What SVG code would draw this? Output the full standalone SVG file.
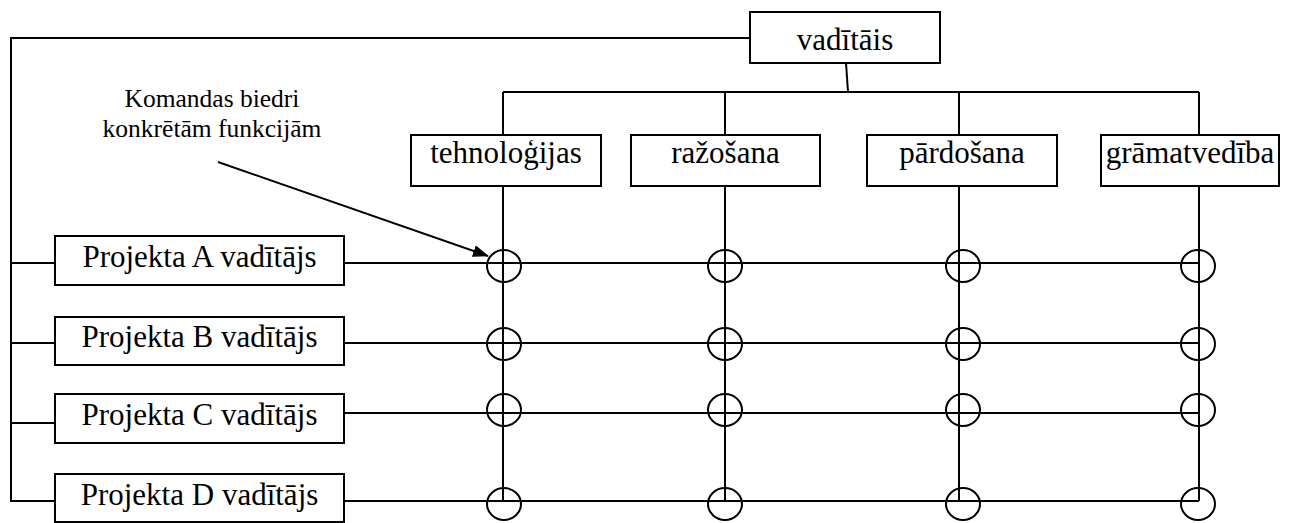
<svg xmlns="http://www.w3.org/2000/svg" width="1298" height="523" viewBox="0 0 1298 523">
  <style>
    .box { fill: #fff; stroke: #000; stroke-width: 2; }
    .lbl { font-family: "Liberation Serif", "Times New Roman", serif; font-size: 31px; fill: #000; text-anchor: middle; }
    .note { font-family: "Liberation Serif", "Times New Roman", serif; font-size: 25.5px; fill: #000; text-anchor: middle; }
    .ln { fill: none; stroke: #000; stroke-width: 2; }
    .node { fill: none; stroke: #000; stroke-width: 2; }
  </style>
  <defs>
    <marker id="arrow" markerWidth="16" markerHeight="12" refX="15" refY="6" orient="auto" markerUnits="userSpaceOnUse" viewBox="0 0 16 12">
      <path d="M0,0 L16,6 L0,12 Z" fill="#000"/>
    </marker>
  </defs>
  <rect width="1298" height="523" fill="#fff"/>

  <!-- connectors -->
  <g id="connectors" class="ln">
    <!-- head to project managers -->
    <polyline points="750,38 11,38 11,501 55,501"/>
    <line x1="11" y1="263" x2="55" y2="263"/>
    <line x1="11" y1="343" x2="55" y2="343"/>
    <line x1="11" y1="423" x2="55" y2="423"/>
    <!-- head to functions -->
    <line x1="846" y1="63" x2="848" y2="92"/>
    <line x1="503" y1="92" x2="1199" y2="92"/>
    <line x1="503" y1="92" x2="503" y2="135"/>
    <line x1="725" y1="92" x2="725" y2="135"/>
    <line x1="959" y1="92" x2="959" y2="135"/>
    <line x1="1199" y1="92" x2="1199" y2="135"/>
    <!-- function columns -->
    <line x1="503" y1="186" x2="503" y2="501"/>
    <line x1="725" y1="186" x2="725" y2="501"/>
    <line x1="959" y1="186" x2="959" y2="501"/>
    <line x1="1199" y1="186" x2="1199" y2="501"/>
    <!-- project rows -->
    <line x1="344" y1="263" x2="1199" y2="263"/>
    <line x1="344" y1="343" x2="1199" y2="343"/>
    <line x1="344" y1="413" x2="1199" y2="413"/>
    <line x1="344" y1="501" x2="1199" y2="501"/>
    <!-- annotation pointer -->
    <line x1="218" y1="162" x2="488" y2="256" marker-end="url(#arrow)"/>
  </g>

  <!-- team member intersections -->
  <g id="members" class="node">
    <ellipse cx="504" cy="266" rx="17" ry="16"/>
    <ellipse cx="725" cy="266" rx="17" ry="16"/>
    <ellipse cx="963" cy="266" rx="17" ry="16"/>
    <ellipse cx="1198" cy="266" rx="17" ry="16"/>
    <ellipse cx="504" cy="344" rx="17" ry="16"/>
    <ellipse cx="725" cy="344" rx="17" ry="16"/>
    <ellipse cx="963" cy="344" rx="17" ry="16"/>
    <ellipse cx="1198" cy="344" rx="17" ry="16"/>
    <ellipse cx="504" cy="410" rx="17" ry="16"/>
    <ellipse cx="725" cy="410" rx="17" ry="16"/>
    <ellipse cx="963" cy="410" rx="17" ry="16"/>
    <ellipse cx="1198" cy="410" rx="17" ry="16"/>
    <ellipse cx="504" cy="504" rx="17" ry="16"/>
    <ellipse cx="725" cy="504" rx="17" ry="16"/>
    <ellipse cx="963" cy="504" rx="17" ry="16"/>
    <ellipse cx="1198" cy="504" rx="17" ry="16"/>
  </g>

  <g id="head">
    <rect class="box" x="750" y="12" width="190" height="51"/>
    <text class="lbl" x="845" y="50">vadītāis</text>
  </g>

  <g id="tehnologijas">
    <rect class="box" x="411" y="135" width="190" height="51"/>
    <text class="lbl" x="506" y="163">tehnoloģijas</text>
  </g>
  <g id="razosana">
    <rect class="box" x="631" y="135" width="189" height="51"/>
    <text class="lbl" x="725.5" y="163">ražošana</text>
  </g>
  <g id="pardosana">
    <rect class="box" x="867" y="135" width="190" height="51"/>
    <text class="lbl" x="962" y="163">pārdošana</text>
  </g>
  <g id="gramatvediba">
    <rect class="box" x="1101" y="135" width="178" height="51"/>
    <text class="lbl" x="1190" y="163">grāmatvedība</text>
  </g>

  <g id="projekta-a">
    <rect class="box" x="55" y="236" width="289" height="49"/>
    <text class="lbl" x="199.5" y="267">Projekta A vadītājs</text>
  </g>
  <g id="projekta-b">
    <rect class="box" x="55" y="317" width="289" height="48"/>
    <text class="lbl" x="199.5" y="347">Projekta B vadītājs</text>
  </g>
  <g id="projekta-c">
    <rect class="box" x="55" y="394" width="289" height="49"/>
    <text class="lbl" x="199.5" y="425">Projekta C vadītājs</text>
  </g>
  <g id="projekta-d">
    <rect class="box" x="55" y="474" width="289" height="48"/>
    <text class="lbl" x="199.5" y="505">Projekta D vadītājs</text>
  </g>

  <g id="note">
    <text class="note" x="212" y="107">Komandas biedri</text>
    <text class="note" x="212" y="137">konkrētām funkcijām</text>
  </g>
</svg>
